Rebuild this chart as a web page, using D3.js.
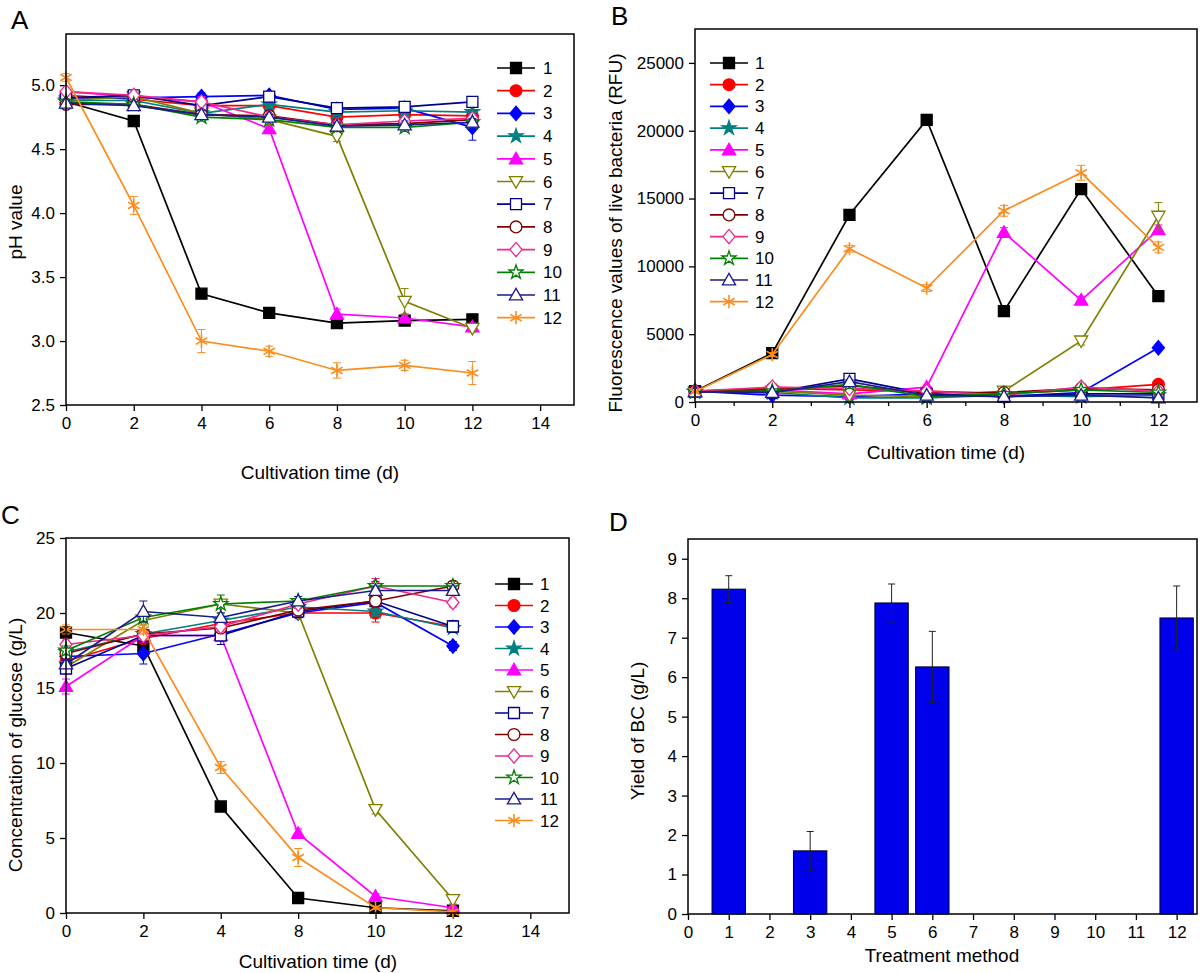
<!DOCTYPE html>
<html><head><meta charset="utf-8">
<script src="https://cdn.jsdelivr.net/npm/d3@7"></script>
<style>
body{margin:0;background:#fff}
svg{display:block}
text{font-family:"Liberation Sans",Arial,Helvetica,sans-serif;fill:#000}
</style>
</head><body>
<svg id="c" width="1200" height="973"></svg>
<script>
// ---------- data ----------
const seriesNames = ["1","2","3","4","5","6","7","8","9","10","11","12"];
const seriesColors = ["#000000","#ff0000","#0000ff","#008080","#ff00ff","#808000","#00008b","#800000","#f0288c","#008000","#1a1a8c","#fb8c1e"];
const seriesShapes = ["square","circle","diamond","star","triangle","triangleDown","square","circle","diamond","star","triangle","asterisk"];
const seriesFilled = [true,true,true,true,true,false,false,false,false,false,false,false];

// Panel A: pH
const daysA = [0,2,4,6,8,10,12];
const xTicksA = [0,2,4,6,8,10,12,14];
const yTicksA = [2.5,3.0,3.5,4.0,4.5,5.0];
const phValues = [
  [4.87,4.72,3.37,3.22,3.14,3.16,3.17],
  [4.92,4.89,4.84,4.84,4.75,4.77,4.76],
  [4.90,4.90,4.91,4.92,4.81,4.82,4.67],
  [4.88,4.88,4.78,4.85,4.79,4.80,4.79],
  [4.95,4.91,4.87,4.66,3.21,3.18,3.11],
  [4.88,4.91,4.78,4.73,4.60,3.31,3.10],
  [4.90,4.92,4.84,4.91,4.82,4.83,4.87],
  [4.85,4.85,4.77,4.76,4.69,4.70,4.73],
  [4.95,4.92,4.87,4.75,4.69,4.72,4.74],
  [4.87,4.85,4.75,4.73,4.67,4.67,4.71],
  [4.86,4.84,4.77,4.75,4.68,4.69,4.71],
  [5.06,4.06,3.00,2.92,2.77,2.81,2.75]
];
const phErrors = [
  [0.02,0.03,0.03,0.03,0.03,0.03,0.03],
  [0.02,0.02,0.02,0.03,0.02,0.02,0.02],
  [0.02,0.02,0.03,0.03,0.03,0.03,0.10],
  [0.02,0.02,0.02,0.03,0.03,0.02,0.02],
  [0.02,0.02,0.04,0.03,0.04,0.03,0.03],
  [0.02,0.02,0.02,0.03,0.04,0.10,0.03],
  [0.02,0.03,0.03,0.03,0.03,0.03,0.03],
  [0.02,0.02,0.02,0.02,0.02,0.03,0.03],
  [0.02,0.02,0.03,0.02,0.03,0.03,0.03],
  [0.02,0.02,0.03,0.02,0.03,0.03,0.02],
  [0.02,0.03,0.03,0.02,0.03,0.03,0.03],
  [0.03,0.07,0.09,0.04,0.06,0.04,0.09]
];

// Panel B: fluorescence (RFU)
const daysB = [0,2,4,6,8,10,12];
const xTicksB = [0,2,4,6,8,10,12];
const xMinorB = [1,3,5,7,9,11];
const yTicksB = [0,5000,10000,15000,20000,25000];
const rfuValues = [
  [800,3600,13800,20800,6700,15700,7800],
  [800,1000,900,800,600,900,1300],
  [800,500,400,600,400,700,4000],
  [800,700,300,300,500,400,500],
  [800,900,600,1100,12500,7500,12700],
  [750,800,500,400,800,4500,13700],
  [750,700,1700,600,400,600,600],
  [800,900,1200,700,700,1000,900],
  [800,1100,1000,800,500,1100,800],
  [750,800,1300,400,600,900,700],
  [750,700,1500,500,400,500,300],
  [750,3500,11300,8400,14100,16900,11400]
];
const rfuErrors = [
  [60,150,250,400,150,150,150],
  [60,100,100,100,100,100,150],
  [60,100,100,100,100,100,150],
  [60,100,100,100,100,100,100],
  [60,100,100,150,350,300,350],
  [60,100,100,100,100,300,1000],
  [60,100,200,100,100,100,100],
  [60,100,100,100,100,100,100],
  [60,100,100,100,100,100,100],
  [60,100,100,100,100,100,100],
  [60,100,150,100,100,100,100],
  [60,150,250,250,400,550,400]
];

// Panel C: glucose (g/L) – category axis (day 6 not measured)
const daysC = ["0","2","4","8","10","12"];
const xTickLabelsC = ["0","2","4","8","10","12","14"];
const yTicksC = [0,5,10,15,20,25];
const glucoseValues = [
  [18.7,17.8,7.1,1.0,0.35,0.15],
  [16.8,18.3,19.3,20.0,20.0,19.1],
  [17.1,17.3,18.6,20.0,20.7,17.8],
  [17.4,18.6,19.5,20.4,20.1,19.0],
  [15.1,18.5,18.5,5.3,1.1,0.35],
  [16.4,19.5,20.6,20.0,6.9,0.9],
  [16.3,18.5,18.5,20.1,20.8,19.1],
  [17.3,18.6,19.0,20.2,20.8,21.8],
  [17.9,18.5,19.1,20.6,21.8,20.7],
  [17.5,19.7,20.6,20.8,21.8,21.8],
  [16.6,20.1,19.7,20.8,21.5,21.5],
  [18.9,18.9,9.7,3.7,0.35,0.07]
];
const glucoseErrors = [
  [0.3,0.3,0.2,0.2,0.1,0.1],
  [0.3,0.3,0.3,0.3,0.6,0.3],
  [0.3,0.7,0.3,0.3,0.3,0.3],
  [0.3,0.3,0.3,0.3,0.3,0.3],
  [0.5,0.3,0.3,0.3,0.2,0.1],
  [0.3,0.3,0.3,0.3,0.3,0.3],
  [0.3,0.3,0.6,0.4,0.3,0.4],
  [0.3,0.3,0.3,0.3,0.3,0.3],
  [0.3,0.3,0.3,0.3,0.5,0.3],
  [0.3,0.3,0.6,0.3,0.3,0.3],
  [0.3,0.7,0.3,0.3,0.3,0.3],
  [0.3,0.3,0.4,0.6,0.1,0.1]
];

// Panel D: yield of BC
const treatmentTicks = [0,1,2,3,4,5,6,7,8,9,10,11,12];
const treatments = [1,3,5,6,12];
const yieldValues = [8.23,1.60,7.88,6.26,7.50];
const yieldErrors = [0.34,0.49,0.48,0.90,0.81];
const yTicksD = [0,1,2,3,4,5,6,7,8,9];

// ---------- drawing ----------
const svg = d3.select("#c");
const FONT = '"Liberation Sans",Arial,Helvetica,sans-serif';
const TICK_FS = 17, TITLE_FS = 19, LEG_FS = 17;

function markerPath(shape, s){
  switch(shape){
    case "square": return `M${-s},${-s}H${s}V${s}H${-s}Z`;
    case "circle": return d3.symbol(d3.symbolCircle, Math.PI*s*s*1.15)();
    case "diamond": return `M0,${-s*1.3}L${s*1.1},0L0,${s*1.3}L${-s*1.1},0Z`;
    case "triangle": return `M0,${-s*1.2}L${s*1.2},${s*0.9}L${-s*1.2},${s*0.9}Z`;
    case "triangleDown": return `M0,${s*1.2}L${s*1.2},${-s*0.9}L${-s*1.2},${-s*0.9}Z`;
    case "star": return d3.symbol(d3.symbolStar, (s*1.35)*(s*1.35)/0.8908)();
    case "asterisk": {
      const a=s*1.2, c=a*0.866, h=a*0.5;
      return `M0,${-a}V${a}M${-c},${-h}L${c},${h}M${-c},${h}L${c},${-h}`;
    }
  }
}

function drawMarker(g, i, cx, cy, s){
  const shape = seriesShapes[i], col = seriesColors[i];
  g.append("path").attr("d", markerPath(shape, s))
    .attr("transform", `translate(${cx},${cy})`)
    .attr("fill", shape==="asterisk" ? "none" : (seriesFilled[i] ? col : "#fff"))
    .attr("stroke", col).attr("stroke-width", shape==="asterisk" ? 1.6 : 1.3);
}

function styleAxis(g){
  g.select(".domain").remove();
  g.selectAll(".tick line").attr("stroke","#000").attr("stroke-width",1.3);
  g.selectAll(".tick text").attr("font-size",TICK_FS).attr("font-family",FONT).attr("fill","#000");
}

function frame(xs, ys){
  const [x0,x1]=xs, [y1,y0]=ys;
  svg.append("rect").attr("x",x0).attr("y",y0).attr("width",x1-x0).attr("height",y1-y0)
    .attr("fill","none").attr("stroke","#000").attr("stroke-width",1.5);
}

function drawSeries(g, xVals, vals, errs, i, xs, ys, s){
  const col = seriesColors[i];
  const idx = d3.range(vals.length);
  g.append("path").datum(idx)
    .attr("d", d3.line().x(j=>xs(xVals[j])).y(j=>ys(vals[j])))
    .attr("fill","none").attr("stroke",col).attr("stroke-width",1.7);
  idx.forEach(j=>{
    const e = errs[j]; const cx = xs(xVals[j]);
    const y1 = ys(vals[j]+e), y2 = ys(Math.max(0,vals[j]-e));
    g.append("path").attr("d",`M${cx},${y1}V${y2}M${cx-4},${y1}H${cx+4}M${cx-4},${y2}H${cx+4}`)
      .attr("stroke",col).attr("stroke-width",1).attr("fill","none");
  });
  idx.forEach(j=> drawMarker(g, i, xs(xVals[j]), ys(vals[j]), s));
}

function legend(x0, x1, xm, xt, y0, dy, s){
  const g = svg.append("g");
  seriesNames.forEach((n,i)=>{
    const y = y0 + i*dy;
    g.append("line").attr("x1",x0).attr("x2",x1).attr("y1",y).attr("y2",y)
      .attr("stroke",seriesColors[i]).attr("stroke-width",1.7);
    drawMarker(g, i, xm, y, s);
    g.append("text").attr("x",xt).attr("y",y+6).attr("font-size",LEG_FS).text(n);
  });
}

function text(x,y,str,fs,anchor,rot){
  const t = svg.append("text").attr("font-size",fs).attr("text-anchor",anchor||"middle").text(str);
  if(rot){ t.attr("transform",`translate(${x},${y}) rotate(-90)`); }
  else t.attr("x",x).attr("y",y);
  return t;
}

// ===== Panel A =====
{
  const xs = d3.scaleLinear().domain([0,15]).range([66,574]);
  const ys = d3.scaleLinear().domain([2.5,5.4]).range([405,34]);
  svg.append("g").attr("transform","translate(0,405)")
    .call(d3.axisBottom(xs).tickValues(xTicksA).tickSize(6).tickPadding(6).tickSizeOuter(0)).call(styleAxis);
  svg.append("g").attr("transform","translate(66,0)")
    .call(d3.axisLeft(ys).tickValues(yTicksA).tickFormat(d3.format(".1f")).tickSize(6).tickPadding(5).tickSizeOuter(0)).call(styleAxis);
  const g = svg.append("g");
  for(let i=0;i<12;i++) drawSeries(g, daysA, phValues[i], phErrors[i], i, xs, ys, 5.5);
  frame(xs.range(), ys.range());
  legend(497, 535, 516, 543, 68, 22.7, 5.5);
  text(320, 479, "Cultivation time (d)", TITLE_FS);
  text(22, 222, "pH value", TITLE_FS, "middle", true);
  text(11, 29, "A", 26, "start");
}

// ===== Panel B =====
{
  const xs = d3.scaleLinear().domain([0,13]).range([695,1197]);
  const ys = d3.scaleLinear().domain([0,27500]).range([402,29]);
  svg.append("g").attr("transform","translate(0,402)")
    .call(d3.axisBottom(xs).tickValues(xTicksB).tickSize(6).tickPadding(6).tickSizeOuter(0)).call(styleAxis);
  svg.append("g").attr("transform","translate(0,402)")
    .call(d3.axisBottom(xs).tickValues(xMinorB).tickSize(4).tickFormat("").tickSizeOuter(0)).call(styleAxis);
  svg.append("g").attr("transform","translate(695,0)")
    .call(d3.axisLeft(ys).tickValues(yTicksB).tickFormat(d3.format("d")).tickSize(6).tickPadding(5).tickSizeOuter(0)).call(styleAxis);
  const g = svg.append("g");
  for(let i=0;i<12;i++) drawSeries(g, daysB, rfuValues[i], rfuErrors[i], i, xs, ys, 5.5);
  frame(xs.range(), ys.range());
  legend(710, 748, 729, 755, 63, 21.7, 5.5);
  text(946, 459, "Cultivation time (d)", TITLE_FS);
  text(622, 233, "Fluorescence values of live bacteria (RFU)", TITLE_FS, "middle", true);
  text(611, 25, "B", 26, "start");
}

// ===== Panel C =====
{
  const xs = d3.scaleLinear().domain([0,6.5]).range([66,569]);
  const ys = d3.scaleLinear().domain([0,25]).range([913,538]);
  const tickIdx = d3.range(xTickLabelsC.length);
  svg.append("g").attr("transform","translate(0,913)")
    .call(d3.axisBottom(xs).tickValues(tickIdx).tickFormat(d=>xTickLabelsC[d]).tickSize(6).tickPadding(6).tickSizeOuter(0)).call(styleAxis);
  svg.append("g").attr("transform","translate(66,0)")
    .call(d3.axisLeft(ys).tickValues(yTicksC).tickSize(6).tickPadding(5).tickSizeOuter(0)).call(styleAxis);
  const g = svg.append("g");
  const xIdx = daysC.map(d=>xTickLabelsC.indexOf(d));
  for(let i=0;i<12;i++) drawSeries(g, xIdx, glucoseValues[i], glucoseErrors[i], i, xs, ys, 5.5);
  frame(xs.range(), ys.range());
  legend(495, 533, 514, 540, 584, 21.5, 5.5);
  text(318, 968, "Cultivation time (d)", TITLE_FS);
  text(22, 745, "Concentration of glucose (g/L)", TITLE_FS, "middle", true);
  text(1, 524, "C", 26, "start");
}

// ===== Panel D =====
{
  const xs = d3.scaleLinear().domain([0,12.5]).range([688,1197]);
  const ys = d3.scaleLinear().domain([0,9.5]).range([914,539]);
  svg.append("g").attr("transform","translate(0,914)")
    .call(d3.axisBottom(xs).tickValues(treatmentTicks).tickSize(6).tickPadding(6).tickSizeOuter(0)).call(styleAxis);
  svg.append("g").attr("transform","translate(688,0)")
    .call(d3.axisLeft(ys).tickValues(yTicksD).tickSize(6).tickPadding(5).tickSizeOuter(0)).call(styleAxis);
  const g = svg.append("g");
  const bw = 0.82;
  treatments.forEach((t,k)=>{
    const v = yieldValues[k];
    g.append("rect").attr("x",xs(t-bw/2)).attr("y",ys(v))
      .attr("width",xs(t+bw/2)-xs(t-bw/2)).attr("height",ys(0)-ys(v))
      .attr("fill","#0000ea").attr("stroke","#000033").attr("stroke-width",1);
    const e = yieldErrors[k], cx = xs(t), y1 = ys(v+e), y2 = ys(v-e);
    g.append("path").attr("d",`M${cx},${y1}V${y2}M${cx-3.5},${y1}H${cx+3.5}M${cx-3.5},${y2}H${cx+3.5}`)
      .attr("stroke","#222").attr("stroke-width",1).attr("fill","none");
  });
  frame(xs.range(), ys.range());
  text(942, 962, "Treatment method", TITLE_FS);
  text(644, 731, "Yield of BC (g/L)", TITLE_FS, "middle", true);
  text(609, 531, "D", 26, "start");
}
</script>
</body></html>
